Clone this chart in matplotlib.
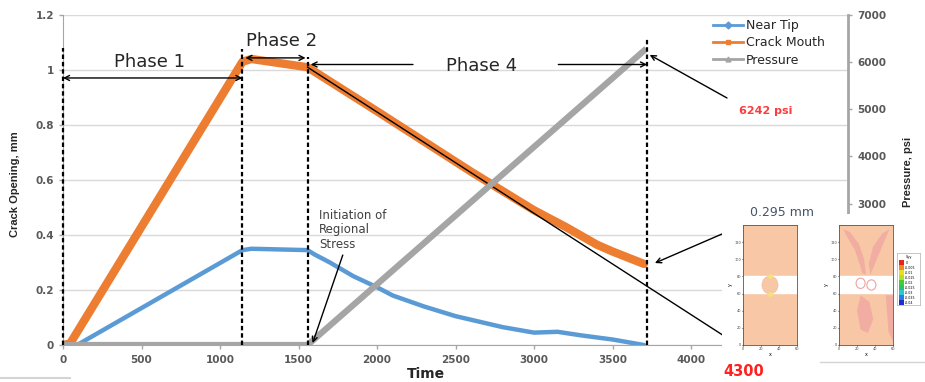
import matplotlib
matplotlib.use("Agg")
import matplotlib.pyplot as plt
from matplotlib.patches import Rectangle, Ellipse, Polygon
from matplotlib.lines import Line2D

# --- data ---
tip_time = [0, 90, 1143, 1200, 1558, 1600, 1700, 1850, 2000, 2100, 2300, 2500, 2800, 3000, 3150, 3300, 3500, 3700]
tip_open = [0, 0, 0.345, 0.35, 0.345, 0.33, 0.30, 0.25, 0.21, 0.18, 0.14, 0.105, 0.065, 0.045, 0.048, 0.035, 0.02, 0.0]

mouth_time = [0, 45, 1143, 1200, 1558, 2000, 2600, 3000, 3200, 3400, 3500, 3700]
mouth_open = [0, 0.005, 1.03, 1.04, 1.01, 0.85, 0.63, 0.49, 0.43, 0.365, 0.34, 0.295]

press_time = [0, 1558, 3700]
press_psi = [0, 0, 6242]

trend_time = [1558, 4300]
trend_open = [1.01, 0.0]

phase_bounds = [0, 1143, 1558, 3720]
phase_tops = [1.08, 1.075, 1.047, 1.116]

# ticks that are not hidden behind the field pictures
x_ticks = list(range(0, 4001, 500))
y_ticks = [0, 0.2, 0.4, 0.6, 0.8, 1.0, 1.2]
p_ticks = list(range(3000, 7001, 1000))

# inset field plots
inset_xticks = [0, 20, 40, 60]
inset_yticks = [0, 20, 40, 60, 80, 100, 120]
band_lo, band_hi = 61, 80
cb_labels = ["0", "-0.005", "-0.01", "-0.015", "-0.02", "-0.025", "-0.03", "-0.035", "-0.04"]
cb_colors = ["#e8231c", "#f08a1e", "#e8e01e", "#b6e01e", "#3fcf2f", "#2fbf6a", "#22c9d8", "#2a7ae8", "#1a2fd0"]

W, H = 925, 382
ORANGE = "#ed7d31"
BLUE = "#5b9bd5"
GRAY = "#a5a5a5"
TXT = "#595959"


def fp(x, y):
    # figure pixel (from top-left) -> figure fraction
    return (x / W, 1 - y / H)


fig = plt.figure(figsize=(W / 100, H / 100), dpi=100)
ax = fig.add_axes([63 / W, 1 - 345 / H, (848 - 63) / W, 330 / H])
ax2 = ax.twinx()

ax.plot(tip_time, tip_open, color=BLUE, lw=3.2, solid_capstyle="round", label="Near Tip")
ax.plot(mouth_time, mouth_open, color=ORANGE, lw=6, solid_capstyle="round", label="Crack Mouth")
ax.plot(trend_time, trend_open, color="black", lw=1)
ax2.plot(press_time, press_psi, color=GRAY, lw=4.5, label="Pressure")

ax.set_xlim(0, 5000)
ax.set_ylim(0, 1.2)
ax2.set_ylim(0, 7000)
ax.set_xticks(x_ticks)
ax.set_yticks(y_ticks)
ax.set_yticklabels(["%g" % v for v in y_ticks])
ax2.set_yticks(p_ticks)

for a in (ax, ax2):
    a.tick_params(colors="#a6a6a6", labelcolor=TXT, labelsize=7.5, length=3, width=1)
    for lab in a.get_xticklabels() + a.get_yticklabels():
        lab.set_fontweight("bold")
    for s in a.spines.values():
        s.set_visible(False)
ax.spines["left"].set_visible(True)
ax.spines["left"].set_color("#a6a6a6")
ax.spines["bottom"].set_visible(True)
ax.spines["bottom"].set_color("#a6a6a6")
ax2.spines["right"].set_visible(True)
ax2.spines["right"].set_color("#a6a6a6")
ax2.spines["right"].set_linewidth(2)
ax.tick_params(axis="x", pad=4)
ax.grid(axis="y", color="#d9d9d9", lw=1)
ax.set_axisbelow(True)

narrow = ["Liberation Sans Narrow", "Liberation Sans", "DejaVu Sans"]
ax.set_ylabel("Crack Opening, mm", fontsize=8, fontweight="bold", color="#262626", family=narrow)
ax.yaxis.set_label_coords(-43 / 785, (345 - 184) / 330)
ax2.set_ylabel("Pressure, psi", fontsize=8, fontweight="bold", color="#262626", rotation=90, family=narrow)
ax2.yaxis.set_label_coords((903 - 63) / 785, (345 - 172) / 330)
ax.set_xlabel("Time", fontsize=10, fontweight="bold", color="#262626", labelpad=0)
ax.xaxis.set_label_coords((426 - 63) / 785, -22 / 330)

# legend (markers shown only in legend)
handles = [Line2D([], [], color=BLUE, lw=2, marker="D", markersize=3.5),
           Line2D([], [], color=ORANGE, lw=2, marker="s", markersize=3.5),
           Line2D([], [], color=GRAY, lw=2, marker="^", markersize=3.5)]
ax2.legend(handles, ["Near Tip", "Crack Mouth", "Pressure"], loc="upper left",
           bbox_to_anchor=((708 - 63) / 785, (345 - 14) / 330), frameon=False,
           fontsize=9, handlelength=2.4, handletextpad=0.2, labelspacing=0.35,
           labelcolor="#262626", borderaxespad=0)

# annotations drawn on top, positioned in the left-axis data frame
td = ax.transData
for xb, top in zip(phase_bounds, phase_tops):
    ax2.plot([xb, xb], [0, top], transform=td, color="black", lw=1.6, ls=(0, (2, 1.3)), clip_on=False)

arrow_kw = dict(arrowstyle="<->", color="black", lw=1, shrinkA=0, shrinkB=0, mutation_scale=9)
one_kw = dict(arrowstyle="->", color="black", lw=1, shrinkA=0, shrinkB=0, mutation_scale=9)
ax2.annotate("", xy=(0, 0.971), xytext=(1143, 0.971), xycoords=td, textcoords=td, arrowprops=arrow_kw)
ax2.annotate("", xy=(1162, 1.044), xytext=(1545, 1.044), xycoords=td, textcoords=td, arrowprops=arrow_kw)
ax2.annotate("", xy=(1577, 1.02), xytext=(2229, 1.02), xycoords=td, textcoords=td, arrowprops=one_kw)
ax2.annotate("", xy=(3720, 1.02), xytext=(3155, 1.02), xycoords=td, textcoords=td, arrowprops=one_kw)

ph_kw = dict(transform=td, fontsize=13, color="#262626", ha="center", va="center")
ax2.text(549, 1.03, "Phase 1", **ph_kw)
ax2.text(1392, 1.105, "Phase 2", clip_on=False, **ph_kw)
ax2.text(2663, 1.015, "Phase 4", **ph_kw)

ax2.text(1629, 0.495, "Initiation of\nRegional\nStress", transform=td, fontsize=8.5,
         color="#404040", ha="left", va="top", linespacing=1.15)
ax2.annotate("", xy=(1590, 0.007), xytext=(1782, 0.327), xycoords=td, textcoords=td, arrowprops=one_kw)

ax2.annotate("", xy=(3737, 1.055), xytext=fp(727, 98), xycoords=td, textcoords="figure fraction",
             arrowprops=one_kw, annotation_clip=False)
fig.text(*fp(766, 111), "6242 psi", color="#ff3b3b", fontsize=8, fontweight="bold", ha="center", va="center")

# white area holding the field pictures
fig.add_artist(Rectangle(fp(722, 382), (W - 722) / W, (382 - 214) / H, transform=fig.transFigure,
                         facecolor="white", edgecolor="none", zorder=5))
fig.add_artist(Line2D([820 / W, 1], [1 - 362 / H] * 2, transform=fig.transFigure, color="#d4d4d4",
                      lw=1, zorder=6))
fig.add_artist(Line2D([0, 70 / W], [1 - 378 / H] * 2, transform=fig.transFigure, color="#d4d4d4",
                      lw=1.5, zorder=6))

fig.text(*fp(782, 212), "0.295 mm", color="#44546a", fontsize=9, ha="center", va="center", zorder=7)
ax2.annotate("", xy=(3770, 0.298), xytext=fp(722, 234), xycoords=td, textcoords="figure fraction",
             arrowprops=one_kw, annotation_clip=False)
fig.text(*fp(744, 372), "4300", color="#ff2020", fontsize=10.5, fontweight="bold", ha="center",
         va="center", zorder=7)

# streak shapes in the second field picture
streak_a_x = [5, 12, 22, 28, 30, 26, 18, 8]
streak_a_y = [135, 132, 118, 100, 82, 84, 110, 128]
streak_b_x = [56, 48, 38, 33, 35, 42, 52]
streak_b_y = [135, 130, 115, 95, 82, 100, 125]
streak_c_x = [24, 34, 38, 32, 24, 20]
streak_c_y = [58, 50, 30, 14, 18, 40]
streak_d_x = [52, 60, 60, 55]
streak_d_y = [58, 58, 5, 15]


def field(px0, streaks, hole):
    a = fig.add_axes([px0 / W, 1 - 345 / H, 54 / W, 120 / H], zorder=8)
    a.set_xlim(0, 60)
    a.set_ylim(0, 140)
    a.set_facecolor("#f7c7a6")
    for sx, sy in streaks:
        a.add_patch(Polygon(list(zip(sx, sy)), closed=True, facecolor="#f0a3a3", edgecolor="none", alpha=0.7))
    a.axhspan(band_lo, band_hi, color="white", zorder=2)
    if hole:
        a.add_patch(Ellipse((30, 70), 18, 21, facecolor="#f7c7a6", edgecolor="#f0b090", lw=0.3, zorder=3))
        a.plot([30, 30], [80, 60], ls="none", marker="o", markersize=2.5, color="#f5e27a", zorder=4)
    else:
        a.add_patch(Ellipse((24, 72), 10, 12, facecolor="none", edgecolor="#f0a3a3", lw=0.8, zorder=3))
        a.add_patch(Ellipse((36, 70), 10, 12, facecolor="none", edgecolor="#f0a3a3", lw=0.8, zorder=3))
    a.set_xticks(inset_xticks)
    a.set_yticks(inset_yticks)
    a.tick_params(labelsize=2.5, length=1, pad=0.5, colors="#444444")
    for s in a.spines.values():
        s.set_color("#555555")
        s.set_linewidth(0.6)
    a.set_xlabel("x", fontsize=3.5, labelpad=1)
    a.set_ylabel("y", fontsize=3.5, labelpad=1)
    return a


field(743, [], True)
field(839, [(streak_a_x, streak_a_y), (streak_b_x, streak_b_y), (streak_c_x, streak_c_y),
            (streak_d_x, streak_d_y)], False)

# colour legend of the field pictures
cb = fig.add_axes([897 / W, 1 - 305 / H, 23 / W, 52 / H], zorder=8)
cb.set_xlim(0, 1)
cb.set_ylim(len(cb_labels) + 1.5, 0)
cb.set_xticks([])
cb.set_yticks([])
for s in cb.spines.values():
    s.set_color("#b0b0b0")
    s.set_linewidth(0.5)
cb.text(0.5, 0.8, "Syy", fontsize=2.5, ha="center", va="center")
for i, (lab, c) in enumerate(zip(cb_labels, cb_colors)):
    cb.add_patch(Rectangle((0.08, i + 1.5), 0.22, 1, facecolor=c, edgecolor="none"))
    cb.text(0.36, i + 2.0, lab, fontsize=2.3, va="center", ha="left")

fig.savefig("out.png", dpi=100)
